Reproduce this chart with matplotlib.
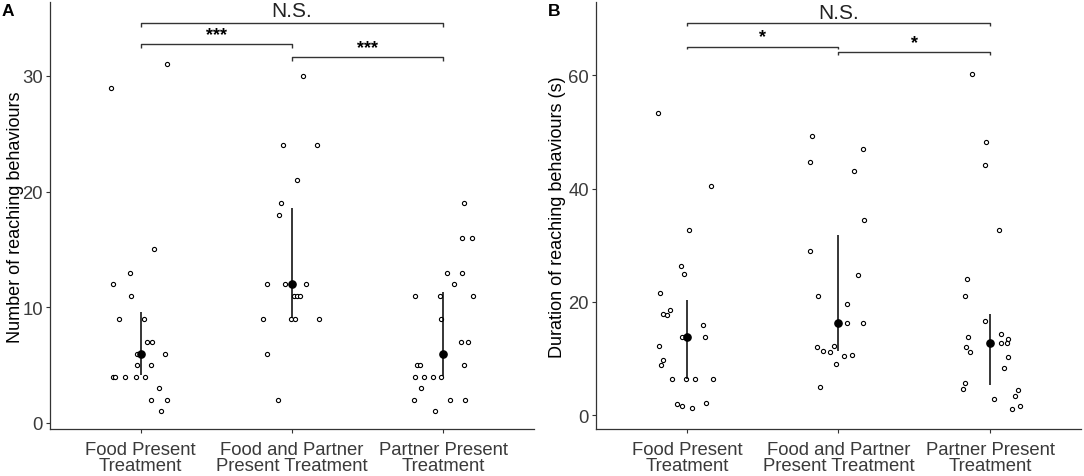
import matplotlib
matplotlib.use("Agg")
import matplotlib.pyplot as plt
import numpy as np

plt.rcParams["font.family"] = ["Liberation Sans", "DejaVu Sans"]

# x tick labels (shared by both panels)
categories = ["Food Present\nTreatment", "Food and Partner\nPresent Treatment", "Partner Present\nTreatment"]

# ---- panel A: number of reaching behaviours (value, jitter offset) ----
a_food = [31, 29, 15, 13, 12, 11, 9, 9, 7, 7, 6, 6, 5, 5, 4, 4, 4, 4, 4, 3, 2, 2, 1]
a_food_jit = [0.177, -0.195, 0.085, -0.074, -0.182, -0.067, -0.145, 0.019, 0.043, 0.073,
              -0.023, 0.162, -0.026, 0.065, -0.182, -0.171, -0.102, -0.032, 0.030, 0.124,
              0.065, 0.173, 0.137]
a_both = [30, 24, 24, 21, 19, 18, 12, 12, 12, 12, 11, 11, 11, 9, 9, 9, 9, 6, 2]
a_both_jit = [0.073, -0.061, 0.163, 0.031, -0.073, -0.084, -0.167, -0.048, 0.091, -0.004,
              0.013, 0.035, 0.053, -0.194, -0.009, 0.020, 0.180, -0.167, -0.091]
a_partner = [19, 16, 16, 13, 13, 12, 11, 11, 11, 9, 7, 7, 5, 5, 5, 4, 4, 4, 4, 3, 2, 2, 2, 1]
a_partner_jit = [0.135, 0.126, 0.188, 0.025, 0.126, 0.073, -0.184, -0.024, 0.197, -0.017,
                 0.115, 0.164, -0.173, -0.156, 0.135, -0.184, -0.130, -0.065, -0.017, -0.149,
                 -0.191, 0.045, 0.141, -0.052]
a_center = [6, 12, 6]
a_low = [4.15, 9.1, 4.1]
a_high = [9.6, 18.6, 11.3]

# ---- panel B: duration of reaching behaviours (s) ----
b_food = [53.4, 40.5, 32.7, 26.4, 25.0, 21.6, 18.6, 17.8, 17.6, 15.9, 13.8, 13.8, 12.2,
          9.8, 8.8, 6.3, 6.3, 6.3, 6.4, 2.0, 1.6, 1.2, 2.2]
b_food_jit = [-0.194, 0.161, 0.016, -0.040, -0.020, -0.176, -0.110, -0.159, -0.132, 0.108,
              -0.035, 0.119, -0.182, -0.156, -0.169, -0.099, -0.009, 0.053, 0.174, -0.063,
              -0.030, 0.036, 0.124]
b_both = [49.3, 47.0, 44.7, 43.2, 34.4, 29.0, 24.7, 21.0, 19.6, 16.2, 16.2, 12.1, 12.2,
          11.4, 11.2, 10.5, 10.6, 9.0, 5.0]
b_both_jit = [-0.174, 0.163, -0.185, 0.104, 0.170, -0.185, 0.132, -0.132, 0.059, 0.055,
              0.163, -0.139, -0.031, -0.104, -0.059, 0.035, 0.090, -0.018, -0.125]
b_partner = [60.3, 48.2, 44.2, 32.7, 24.1, 21.0, 16.7, 13.8, 14.3, 13.5, 12.7, 12.7, 12.1,
             11.2, 10.3, 8.4, 5.6, 4.7, 4.4, 3.3, 2.9, 1.6, 1.0]
b_partner_jit = [-0.120, -0.026, -0.035, 0.059, -0.154, -0.167, -0.035, -0.147, 0.073, 0.121,
                 0.071, 0.110, -0.160, -0.132, 0.121, 0.090, -0.167, -0.178, 0.187, 0.163,
                 0.024, 0.200, 0.145]
b_center = [13.8, 16.2, 12.8]
b_low = [6.3, 11.3, 5.3]
b_high = [20.3, 31.8, 17.9]

# significance brackets: (left group, right group, height, label)
a_brackets = [(1, 3, 34.6, "N.S."), (1, 2, 32.75, "***"), (2, 3, 31.6, "***")]
b_brackets = [(1, 3, 69.2, "N.S."), (1, 2, 65.1, "*"), (2, 3, 64.1, "*")]

GREY = "#333333"


def draw_panel(ax, groups, jitters, center, low, high, brackets, tick_depth, star_gap,
               ylim, yticks, ylabel, letter):
    for i, (vals, jit) in enumerate(zip(groups, jitters)):
        x = i + 1 + np.array(jit)
        ax.plot(x, vals, "o", ms=3.0, mfc="white", mec="black", mew=0.8, zorder=3)
    xs = np.arange(1, len(center) + 1)
    ax.vlines(xs, low, high, color="black", lw=1.1, zorder=4)
    ax.plot(xs, center, "o", ms=5.2, color="black", zorder=5)

    for left, right, h, label in brackets:
        ax.plot([left, left, right, right], [h - tick_depth, h, h, h - tick_depth],
                color=GREY, lw=1.0, solid_capstyle="butt", clip_on=False)
        if label == "N.S.":
            ax.text((left + right) / 2, h + tick_depth * 0.6, label, ha="center",
                    va="bottom", fontsize=15, color="#222222")
        else:
            ax.text((left + right) / 2, h + star_gap, label, ha="center",
                    va="bottom", fontsize=13, fontweight="bold", color="black")

    ax.set_xlim(0.4, 3.6)
    ax.set_ylim(*ylim)
    ax.set_xticks(xs)
    ax.set_xticklabels(categories, fontsize=13.3, color="#3a3a3a", linespacing=0.95)
    ax.set_yticks(yticks)
    ax.set_yticklabels([str(t) for t in yticks], fontsize=13.3, color="#3a3a3a")
    ax.set_ylabel(ylabel, fontsize=13, color="black")
    for side in ["top", "right"]:
        ax.spines[side].set_visible(False)
    for side in ["left", "bottom"]:
        ax.spines[side].set_color(GREY)
        ax.spines[side].set_linewidth(0.9)
    ax.tick_params(axis="both", length=2.6, width=0.8, color=GREY, pad=2.5)
    ax.tick_params(axis="x", pad=5.5)
    ax.text(-0.099, 0.998, letter, transform=ax.transAxes, fontsize=12.5,
            fontweight="bold", ha="left", va="top")


fig = plt.figure(figsize=(10.84, 4.77), dpi=100)
ax_a = fig.add_axes([0.0461, 0.0979, 0.4465, 0.895])
ax_b = fig.add_axes([0.5498, 0.0979, 0.4474, 0.895])

draw_panel(ax_a, [a_food, a_both, a_partner], [a_food_jit, a_both_jit, a_partner_jit],
           a_center, a_low, a_high, a_brackets, 0.35, 0.1, (-0.55, 36.36), [0, 10, 20, 30],
           "Number of reaching behaviours", "A")
draw_panel(ax_b, [b_food, b_both, b_partner], [b_food_jit, b_both_jit, b_partner_jit],
           b_center, b_low, b_high, b_brackets, 0.5, 0.2, (-2.5, 72.9), [0, 20, 40, 60],
           "Duration of reaching behaviours (s)", "B")

ax_a.yaxis.set_label_coords(-0.054, 0.5)
ax_b.yaxis.set_label_coords(-0.062, 0.5)

fig.savefig("out.png", dpi=100)
